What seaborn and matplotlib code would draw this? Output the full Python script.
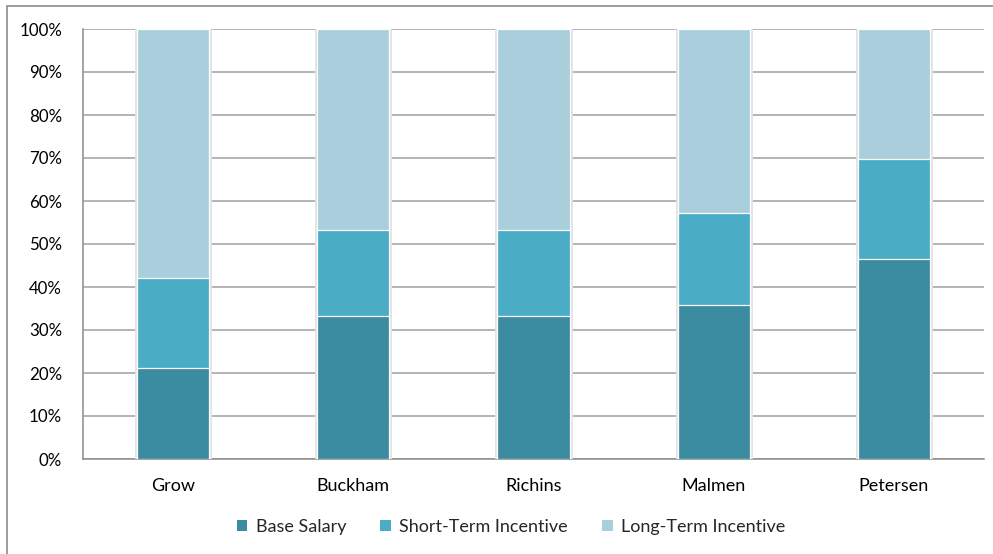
import matplotlib
matplotlib.use("Agg")
import matplotlib.pyplot as plt
import matplotlib.patheffects as pe
from matplotlib.patches import Rectangle
from matplotlib.ticker import FixedLocator, FuncFormatter
import numpy as np
import pandas as pd
import seaborn as sns

# Pay mix by executive (share of total compensation, %)
executives = ["Grow", "Buckham", "Richins", "Malmen", "Petersen"]
base_salary = [21.1, 33.3, 33.3, 35.8, 46.5]
short_term = [21.1, 20.0, 20.0, 21.3, 23.3]
long_term = [57.8, 46.7, 46.7, 42.9, 30.2]

components = ["Base Salary", "Short-Term Incentive", "Long-Term Incentive"]
colors = ["#3B8BA1", "#4BACC6", "#A9CEDC"]
y_ticks = list(range(0, 101, 10))

sns.set_theme(style="white")
plt.rcParams["font.family"] = ["Lato", "DejaVu Sans"]

df = pd.DataFrame({
    "executive": executives,
    "Base Salary": base_salary,
    "Short-Term Incentive": short_term,
    "Long-Term Incentive": long_term,
})
# cumulative tops so each segment can be drawn as an overlapping bar
df["top_base"] = df["Base Salary"]
df["top_sti"] = df["top_base"] + df["Short-Term Incentive"]
df["top_lti"] = df["top_sti"] + df["Long-Term Incentive"]

fig = plt.figure(figsize=(9.93, 5.54), dpi=100)
ax = fig.add_axes([83 / 993, 1 - 459 / 554, (984 - 83) / 993, (459 - 29) / 554])

for i, (col, color) in enumerate(zip(["top_lti", "top_sti", "top_base"], colors[::-1])):
    n_before = len(ax.patches)
    sns.barplot(data=df, x="executive", y=col, color=color, width=0.4,
                edgecolor="white", linewidth=0.9, saturation=1, ax=ax, zorder=3)
    if i == 0:
        # soft outline around the full stacked column
        for p in ax.patches[n_before:]:
            p.set_path_effects([pe.Stroke(linewidth=3.5, foreground="#e2e2e2"), pe.Normal()])

ax.set_ylim(0, 100)
ax.set_xlim(-0.5, len(executives) - 0.5)
ax.set_xlabel("")
ax.set_ylabel("")

ax.yaxis.set_major_locator(FixedLocator(y_ticks))
ax.yaxis.set_major_formatter(FuncFormatter(lambda v, _: f"{v:.0f}%"))
ax.grid(axis="y", color="#a0a0a0", linewidth=1.1, zorder=0)
ax.set_axisbelow(True)

ax.xaxis.set_minor_locator(FixedLocator(np.arange(-0.5, len(executives), 1.0)))
ax.tick_params(axis="x", which="major", length=0, pad=14, labelsize=13, labelcolor="black")
ax.tick_params(axis="x", which="minor", length=5, width=1, color="#8c8c8c", direction="out")
ax.tick_params(axis="y", which="major", length=5, width=1, color="#8c8c8c",
               direction="out", pad=10, labelsize=12.2, labelcolor="black")

for side in ["top", "right"]:
    ax.spines[side].set_visible(False)
for side in ["left", "bottom"]:
    ax.spines[side].set_color("#8c8c8c")
    ax.spines[side].set_linewidth(1.1)

handles = [Rectangle((0, 0), 1, 1, facecolor=c, edgecolor="none") for c in colors]
fig.legend(handles, components, loc="center", bbox_to_anchor=(511 / 993, 1 - 527 / 554),
           ncol=3, frameon=False, fontsize=13, handlelength=0.6, handleheight=0.6,
           handletextpad=0.45, columnspacing=1.9)

# outer chart frame
fig.add_artist(Rectangle((7 / 993, -0.05), 1.1, 1 - 6 / 554 + 0.05,
                         transform=fig.transFigure, fill=False,
                         edgecolor="#8c8c8c", linewidth=1.2))

fig.savefig("out.png", dpi=100, facecolor="white")
